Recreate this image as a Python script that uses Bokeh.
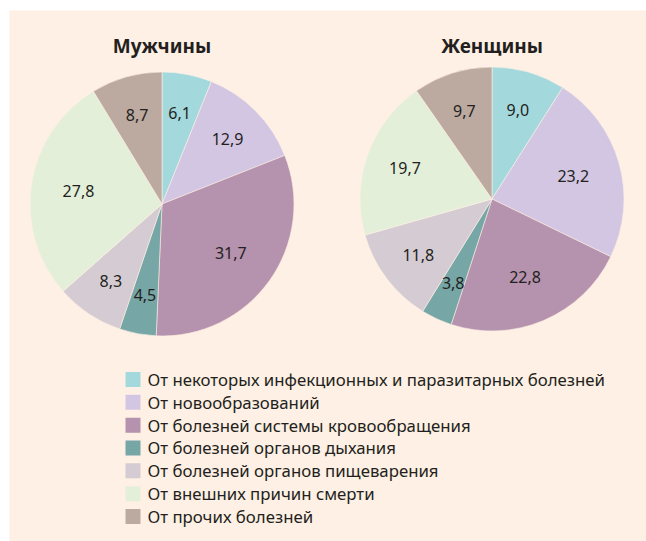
import math
from bokeh.plotting import figure
from bokeh.models import Range1d, ColumnDataSource
from bokeh.core.properties import value
from bokeh.embed import file_html
from bokeh.resources import INLINE

categories = [
    "От некоторых инфекционных и паразитарных болезней",
    "От новообразований",
    "От болезней системы кровообращения",
    "От болезней органов дыхания",
    "От болезней органов пищеварения",
    "От внешних причин смерти",
    "От прочих болезней",
]
colors = ["#a3d9dd", "#d3c6e2", "#b592ad", "#76a6a5", "#d5cbd3", "#e4efda", "#bcaaa0"]
men = [6.1, 12.9, 31.7, 4.5, 8.3, 27.8, 8.7]
women = [9.0, 23.2, 22.8, 3.8, 11.8, 19.7, 9.7]
titles = ["Мужчины", "Женщины"]

W, H = 646, 541
FONT = "Noto Sans"
TXT = "#231f20"
PANEL = "#fef0e4"

p = figure(width=W, height=H, output_backend="svg", toolbar_location=None,
           x_range=Range1d(0, W), y_range=Range1d(0, H), min_border=0)
p.axis.visible = False
p.grid.visible = False
p.outline_line_color = None
p.background_fill_color = "white"
p.border_fill_color = "white"

# panel
p.quad(left=9, right=W, bottom=0, top=H - 10, fill_color=PANEL, line_color=None)

def Y(py):
    return H - py

pies = [(161.5, 203.5, men), (491.5, 198.5, women)]
R = 132
for (cx, cy, vals), title in zip(pies, titles):
    total = sum(vals)
    starts, ends, lx, ly, labels = [], [], [], [], []
    cum = 0.0
    for v in vals:
        a0 = math.pi / 2 - 2 * math.pi * cum / total
        a1 = math.pi / 2 - 2 * math.pi * (cum + v) / total
        mid = (a0 + a1) / 2
        frac = 0.70 if v < 20 else 0.64
        starts.append(a0)
        ends.append(a1)
        lx.append(cx + R * frac * math.cos(mid))
        ly.append(Y(cy) + R * frac * math.sin(mid))
        labels.append(f"{v:.1f}".replace(".", ","))
        cum += v
    src = ColumnDataSource(dict(start=starts, end=ends, color=colors))
    p.wedge(x=cx, y=Y(cy), radius=R, start_angle="start", end_angle="end",
            direction="clock", fill_color="color", line_color=PANEL,
            line_width=0.6, source=src)
    p.text(x=lx, y=ly, text=labels, text_font=value(FONT), text_font_size="16px",
           text_color=TXT, text_align="center", text_baseline="middle")
    p.text(x=[cx], y=[Y(45)], text=[title], text_font=value(FONT),
           text_font_size="19px", text_font_style="bold", text_color=TXT,
           text_align="center", text_baseline="middle")

# legend
row0, step = 379, 22.83
ys = [Y(row0 + i * step) for i in range(len(categories))]
p.rect(x=[132.5] * len(categories), y=ys, width=15, height=15,
       fill_color=colors, line_color=None)
p.text(x=[147] * len(categories), y=ys, text=categories, text_font=value(FONT),
       text_font_size="16.8px", text_color=TXT, text_align="left",
       text_baseline="middle")

open("out.html", "w").write(file_html(p, INLINE))
